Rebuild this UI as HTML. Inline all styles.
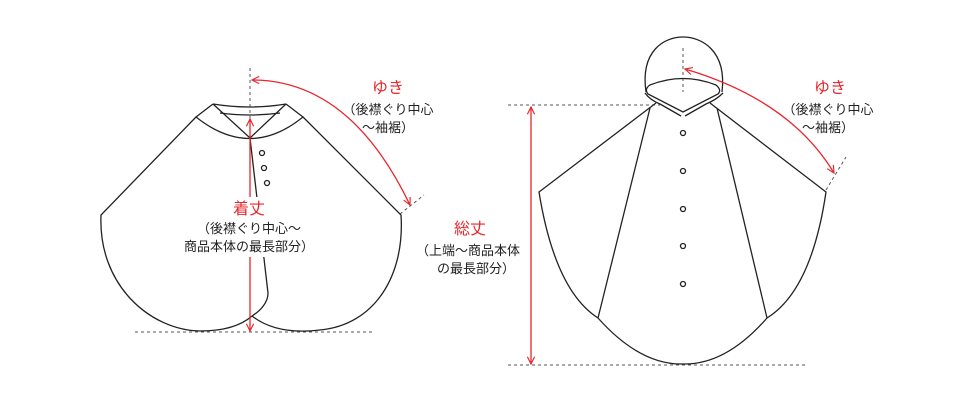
<!DOCTYPE html>
<html><head><meta charset="utf-8"><style>
body{margin:0;background:#fff;width:960px;height:400px;overflow:hidden}
svg{display:block}
text{font-family:"Liberation Sans","Noto Sans CJK JP",sans-serif;text-anchor:middle}
.k{fill:#222;font-size:13px}
.r{fill:#e8262d;font-size:16px}
</style></head><body>
<svg width="960" height="400" viewBox="0 0 960 400">
<defs><marker id="a" viewBox="0 0 10 10" refX="9" refY="5" markerWidth="9" markerHeight="9" orient="auto-start-reverse" markerUnits="userSpaceOnUse"><path d="M1,1 L9,5 L1,9" fill="none" stroke="#e8262d" stroke-width="1.3"/></marker></defs>
<g fill="none" stroke="#555" stroke-width="1" stroke-dasharray="3,3">
<line x1="250" y1="68" x2="250" y2="135"/>
<line x1="135" y1="332" x2="375" y2="332"/>
<line x1="400" y1="214" x2="424" y2="195"/>
<line x1="683" y1="48" x2="683" y2="92"/>
<line x1="508" y1="105" x2="660" y2="105"/>
<line x1="508" y1="365" x2="805" y2="365"/>
<line x1="826" y1="190" x2="846" y2="157"/>
</g>
<g fill="none" stroke="#222" stroke-width="1.3">
<path d="M213,104 Q250,110 286,104"/>
<path d="M220,113 Q250,117 280,113"/>
<path d="M213,104 L250,138 L286,104"/>
<path d="M213,104 L196,117 Q250,160 303,117 L286,104"/>
<path d="M196,117 L101,215 C98,285 150,330 200,331 Q235,331 252,316"/>
<path d="M303,117 L401,215 C405,275 375,325 320,330 C295,333 270,330 252,316"/>
<path d="M250,138 L268,293 C268,303 260,311 252,316"/>
<circle cx="262" cy="153" r="2.5"/><circle cx="264" cy="168" r="2.5"/><circle cx="267" cy="183" r="2.5"/>
<path d="M646,92 C640,50 665,37 683,37 C701,37 727,50 722,92"/>
<path d="M650,85 Q683,72 716,85 Q722,90 718,94 L683,112 L648,94 Q644,89 650,85Z"/>
<path d="M645,93 Q650,100 660,104 L681,116 M685,116 L706,104 Q716,100 723,93"/>
<path d="M656,103 L539,192 C550,260 570,300 598,318 Q640,365 683,364 Q726,365 767,318 C796,300 816,260 826,192 L710,103"/>
<path d="M650,108 L598,318 M717,108 L767,318"/>
<circle cx="683" cy="133" r="2.5"/><circle cx="683" cy="171" r="2.5"/><circle cx="683" cy="209" r="2.5"/><circle cx="683" cy="246" r="2.5"/><circle cx="683" cy="284" r="2.5"/>
</g>
<g fill="none" stroke="#e8262d" stroke-width="1.3">
<line x1="250" y1="119" x2="250" y2="331" marker-start="url(#a)" marker-end="url(#a)"/>
<path d="M252,80 Q350,80 410,205" marker-start="url(#a)" marker-end="url(#a)"/>
<line x1="531" y1="107" x2="531" y2="364" marker-start="url(#a)" marker-end="url(#a)"/>
<path d="M685,69 Q790,100 834,173" marker-start="url(#a)" marker-end="url(#a)"/>
</g>
<rect x="195" y="197" width="110" height="60" fill="#fff"/>
<text class="r" x="249" y="214">着丈</text>
<text class="k" x="249" y="233">（後襟ぐり中心～</text>
<text class="k" x="249" y="251">商品本体の最長部分）</text>
<text class="r" x="388" y="93">ゆき</text>
<text class="k" x="388" y="114">（後襟ぐり中心</text>
<text class="k" x="388" y="132">～袖裾）</text>
<rect x="415" y="217" width="108" height="60" fill="#fff"/>
<text class="r" x="470" y="234">総丈</text>
<text class="k" x="468" y="255">（上端～商品本体</text>
<text class="k" x="476" y="273">の最長部分）</text>
<text class="r" x="830" y="93">ゆき</text>
<text class="k" x="828" y="114">（後襟ぐり中心</text>
<text class="k" x="828" y="132">～袖裾）</text>
</svg>
</body></html>
